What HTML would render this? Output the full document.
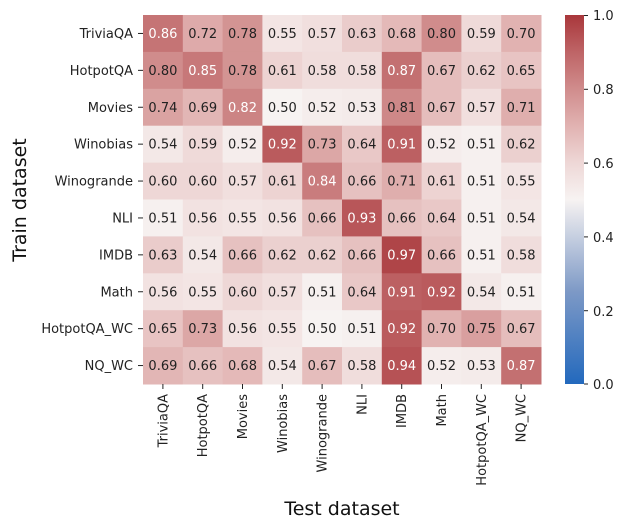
<!DOCTYPE html>
<html><head><meta charset="utf-8"><style>body{margin:0;background:#fff}svg{display:block;font-family:"DejaVu Sans","Liberation Sans",sans-serif}</style></head>
<body>
<svg id="s" width="625" height="528" xmlns="http://www.w3.org/2000/svg">
<defs><linearGradient id="cb" x1="0" y1="1" x2="0" y2="0">
<stop offset="0" stop-color="rgb(35,105,189)"/><stop offset="0.25" stop-color="rgb(125,153,198)"/><stop offset="0.5" stop-color="rgb(247,243,242)"/><stop offset="0.6" stop-color="rgb(238,215,214)"/><stop offset="0.7" stop-color="rgb(225,178,177)"/><stop offset="0.8" stop-color="rgb(208,140,140)"/><stop offset="0.9" stop-color="rgb(190,100,102)"/><stop offset="1" stop-color="rgb(169,55,59)"/></linearGradient></defs>
<g id="g"></g>
<rect x="565" y="15" width="19" height="369" fill="url(#cb)"/>
<g font-size="13" fill="#222">
<text x="593" y="20">1.0</text><text x="593" y="94">0.8</text><text x="593" y="168">0.6</text><text x="593" y="242">0.4</text><text x="593" y="316">0.2</text><text x="593" y="389">0.0</text></g>
<g stroke="#222"><line x1="584" x2="588" y1="15.5" y2="15.5"/><line x1="584" x2="588" y1="89.3" y2="89.3"/><line x1="584" x2="588" y1="163.1" y2="163.1"/><line x1="584" x2="588" y1="236.9" y2="236.9"/><line x1="584" x2="588" y1="310.7" y2="310.7"/><line x1="584" x2="588" y1="384" y2="384"/></g>
<text x="342" y="515" font-size="19" text-anchor="middle" fill="#111">Test dataset</text>
<text transform="translate(26,200) rotate(-90)" font-size="19" text-anchor="middle" fill="#111">Train dataset</text>
</svg>
<script>
var names=["TriviaQA","HotpotQA","Movies","Winobias","Winogrande","NLI","IMDB","Math","HotpotQA_WC","NQ_WC"];
var d=[[.86,.72,.78,.55,.57,.63,.68,.80,.59,.70],[.80,.85,.78,.61,.58,.58,.87,.67,.62,.65],[.74,.69,.82,.50,.52,.53,.81,.67,.57,.71],[.54,.59,.52,.92,.73,.64,.91,.52,.51,.62],[.60,.60,.57,.61,.84,.66,.71,.61,.51,.55],[.51,.56,.55,.56,.66,.93,.66,.64,.51,.54],[.63,.54,.66,.62,.62,.66,.97,.66,.51,.58],[.56,.55,.60,.57,.51,.64,.91,.92,.54,.51],[.65,.73,.56,.55,.50,.51,.92,.70,.75,.67],[.69,.66,.68,.54,.67,.58,.94,.52,.53,.87]];
var st=[[0,35,105,189],[.25,125,153,198],[.5,247,243,242],[.6,238,215,214],[.7,225,178,177],[.8,208,140,140],[.9,190,100,102],[1,169,55,59]];
function col(v){for(var i=1;i<st.length;i++){if(v<=st[i][0]){var a=st[i-1],b=st[i],t=(v-a[0])/(b[0]-a[0]);return "rgb("+[1,2,3].map(k=>Math.round(a[k]+(b[k]-a[k])*t)).join(",")+")";}}return "rgb(169,55,59)";}
var x0=143,y0=15,cw=39.8,ch=36.9,h="";
for(var r=0;r<10;r++)for(var c=0;c<10;c++){var v=d[r][c],x=x0+c*cw,y=y0+r*ch;
h+='<rect x="'+x+'" y="'+y+'" width="'+(cw+0.5)+'" height="'+(ch+0.5)+'" fill="'+col(v)+'"/>';
h+='<text x="'+(x+cw/2)+'" y="'+(y+ch/2+4.5)+'" font-size="13" text-anchor="middle" fill="'+(v>=0.82?'#fff':'#222')+'">'+v.toFixed(2)+'</text>';}
for(var i=0;i<10;i++){var cy=y0+i*ch+ch/2,cx=x0+i*cw+cw/2;
h+='<line x1="138" x2="143" y1="'+cy+'" y2="'+cy+'" stroke="#222"/><text x="133" y="'+(cy+4.5)+'" font-size="13" text-anchor="end" fill="#222">'+names[i]+'</text>';
h+='<line x1="'+cx+'" x2="'+cx+'" y1="384" y2="389" stroke="#222"/><text transform="translate('+(cx+4.5)+',394) rotate(-90)" font-size="13" text-anchor="end" fill="#222">'+names[i]+'</text>';}
document.getElementById("g").innerHTML=h;
</script>
</body></html>
